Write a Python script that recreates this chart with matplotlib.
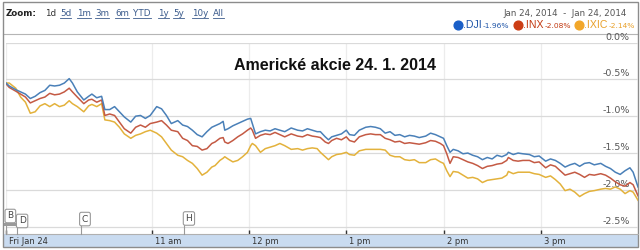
import matplotlib
matplotlib.use('Agg')
import matplotlib.pyplot as plt
from matplotlib.patches import Rectangle
from matplotlib.lines import Line2D
import matplotlib.transforms as mtransforms

# ---------------- data (minutes after 9:30 open, % change) ----------------
minutes = [0, 2, 6, 9, 12, 15, 18, 21, 24, 27,
           30, 33, 36, 39, 41, 44, 48, 51, 53, 56,
           59, 61, 64, 67, 70, 73, 77, 80, 83, 86,
           89, 93, 96, 99, 102, 106, 109, 112, 115, 118,
           121, 124, 127, 129, 132, 134, 135, 137, 140, 143,
           146, 149, 151, 152, 154, 157, 160, 163, 166, 169,
           172, 176, 180, 183, 186, 189, 192, 194, 197, 199,
           201, 204, 207, 210, 212, 215, 218, 222, 225, 228,
           231, 234, 237, 240, 243, 246, 249, 252, 255, 259,
           262, 265, 268, 270, 272, 274, 276, 279, 282, 285,
           288, 291, 294, 297, 300, 303, 306, 309, 310, 313,
           316, 319, 323, 326, 329, 333, 336, 339, 342, 345,
           348, 351, 354, 357, 360, 363, 367, 370, 373, 376,
           379, 382, 385, 387, 390]

dji = [-0.55, -0.59, -0.64, -0.67, -0.70, -0.76, -0.73, -0.68, -0.65, -0.58,
       -0.59, -0.58, -0.55, -0.49, -0.55, -0.67, -0.78, -0.73, -0.70, -0.75,
       -0.73, -0.91, -0.91, -0.87, -0.94, -1.01, -1.08, -1.00, -0.99, -1.03,
       -0.99, -0.87, -0.90, -0.99, -1.10, -1.06, -1.12, -1.14, -1.19, -1.25,
       -1.28, -1.21, -1.15, -1.13, -1.10, -1.07, -1.19, -1.17, -1.13, -1.10,
       -1.07, -1.04, -1.03, -1.10, -1.24, -1.21, -1.19, -1.20, -1.17, -1.19,
       -1.21, -1.16, -1.19, -1.20, -1.17, -1.19, -1.21, -1.21, -1.28, -1.32,
       -1.28, -1.26, -1.24, -1.19, -1.25, -1.26, -1.19, -1.15, -1.14, -1.15,
       -1.17, -1.23, -1.21, -1.26, -1.25, -1.28, -1.26, -1.27, -1.29, -1.27,
       -1.23, -1.25, -1.28, -1.30, -1.40, -1.49, -1.45, -1.47, -1.51, -1.50,
       -1.53, -1.55, -1.59, -1.56, -1.58, -1.53, -1.55, -1.52, -1.49, -1.52,
       -1.50, -1.51, -1.52, -1.55, -1.54, -1.61, -1.58, -1.60, -1.64, -1.69,
       -1.66, -1.64, -1.68, -1.64, -1.63, -1.66, -1.64, -1.68, -1.71, -1.76,
       -1.79, -1.74, -1.70, -1.76, -1.96]

inx = [-0.56, -0.61, -0.66, -0.70, -0.74, -0.82, -0.79, -0.76, -0.74, -0.69,
       -0.71, -0.70, -0.67, -0.62, -0.67, -0.74, -0.83, -0.78, -0.77, -0.81,
       -0.78, -0.99, -0.97, -0.99, -1.08, -1.17, -1.23, -1.15, -1.12, -1.15,
       -1.10, -1.08, -1.06, -1.12, -1.19, -1.21, -1.30, -1.33, -1.40, -1.41,
       -1.46, -1.44, -1.37, -1.35, -1.30, -1.29, -1.35, -1.37, -1.33, -1.28,
       -1.24, -1.19, -1.16, -1.19, -1.30, -1.26, -1.24, -1.25, -1.22, -1.25,
       -1.28, -1.24, -1.27, -1.28, -1.25, -1.27, -1.28, -1.29, -1.35, -1.37,
       -1.33, -1.30, -1.32, -1.28, -1.33, -1.35, -1.28, -1.25, -1.24, -1.25,
       -1.25, -1.30, -1.32, -1.35, -1.34, -1.37, -1.36, -1.37, -1.38, -1.36,
       -1.33, -1.34, -1.37, -1.40, -1.51, -1.64, -1.55, -1.56, -1.59, -1.62,
       -1.64, -1.67, -1.71, -1.68, -1.67, -1.65, -1.64, -1.60, -1.56, -1.60,
       -1.61, -1.60, -1.60, -1.63, -1.62, -1.70, -1.66, -1.68, -1.74, -1.80,
       -1.78, -1.76, -1.79, -1.83, -1.79, -1.80, -1.78, -1.80, -1.84, -1.89,
       -1.93, -1.95, -1.90, -1.93, -2.08]

ixic = [-0.55, -0.55, -0.62, -0.74, -0.81, -0.96, -0.94, -0.86, -0.83, -0.87,
        -0.83, -0.87, -0.85, -0.79, -0.83, -0.87, -0.94, -0.86, -0.84, -0.87,
        -0.83, -1.05, -1.06, -1.08, -1.15, -1.24, -1.30, -1.26, -1.24, -1.21,
        -1.19, -1.23, -1.28, -1.37, -1.46, -1.53, -1.55, -1.60, -1.64, -1.71,
        -1.80, -1.76, -1.69, -1.67, -1.60, -1.57, -1.55, -1.58, -1.62, -1.60,
        -1.55, -1.49, -1.40, -1.37, -1.40, -1.49, -1.44, -1.42, -1.40, -1.37,
        -1.40, -1.45, -1.44, -1.46, -1.44, -1.43, -1.44, -1.49, -1.55, -1.59,
        -1.55, -1.52, -1.51, -1.49, -1.52, -1.53, -1.47, -1.45, -1.45, -1.45,
        -1.45, -1.46, -1.53, -1.55, -1.55, -1.59, -1.60, -1.59, -1.63, -1.63,
        -1.59, -1.58, -1.62, -1.64, -1.74, -1.82, -1.75, -1.76, -1.80, -1.84,
        -1.83, -1.85, -1.90, -1.87, -1.86, -1.85, -1.84, -1.80, -1.75, -1.78,
        -1.76, -1.76, -1.76, -1.78, -1.79, -1.83, -1.81, -1.86, -1.92, -2.01,
        -1.99, -2.03, -2.09, -2.05, -2.02, -2.01, -1.99, -1.98, -1.99, -1.96,
        -1.99, -2.05, -2.01, -2.03, -2.14]

y_ticks = [0.0, -0.5, -1.0, -1.5, -2.0, -2.5]
y_tick_labels = ['0.0%', '-0.5%', '-1.0%', '-1.5%', '-2.0%', '-2.5%']
x_ticks = [0, 90, 150, 210, 270, 330]
x_tick_labels = ['Fri Jan 24', '11 am', '12 pm', '1 pm', '2 pm', '3 pm']
flag_letters = ['B', 'D', 'C', 'H']
flag_minutes = [0, 7, 46, 110]
legend_names = ['.DJI', '.INX', '.IXIC']
legend_changes = ['-1.96%', '-2.08%', '-2.14%']
zoom_links = ['1d', '5d', '1m', '3m', '6m', 'YTD', '1y', '5y', '10y', 'All']
title_text = 'Americké akcie 24. 1. 2014'
date_range = 'Jan 24, 2014  -  Jan 24, 2014'

# ---------------- styling ----------------
line_colors = ['#4a80b8', '#c45a44', '#e3b23c']
dot_colors = ['#1a5fc8', '#cc3d14', '#f2a72a']
text_colors = ['#1f55a8', '#c23a12', '#e8a02a']

W, H = 640, 250
fig = plt.figure(figsize=(6.4, 2.5), dpi=100)
fig.patch.set_facecolor('white')


def fx(x):
    return x / W


def fy(y):
    return 1 - y / H


# outer frame
fig.patches.append(Rectangle((fx(3), fy(247)), (638 - 3) / W, (247 - 2) / H,
                             transform=fig.transFigure, fill=False,
                             edgecolor='#8c8c8c', lw=1.0, zorder=-1))
# header separator
fig.add_artist(Line2D([fx(3), fx(638)], [fy(34), fy(34)], color='#b5b5b5', lw=0.8,
                      transform=fig.transFigure, zorder=-1))
# bottom band
fig.patches.append(Rectangle((fx(3), fy(247)), (638 - 3) / W, (247 - 234) / H,
                             transform=fig.transFigure, facecolor='#c9dbf0',
                             edgecolor='none', zorder=-2))

# main axes
ax = fig.add_axes([fx(6), fy(234), (638 - 6) / W, (234 - 42.5) / H])
ax.patch.set_alpha(0)
ax.set_xlim(0, 390)
ax.set_ylim(-(234 - 42.5) / 73.7, 0)
for s in ['top', 'left', 'right']:
    ax.spines[s].set_visible(False)
ax.spines['bottom'].set_color('#b0b0b0')
ax.spines['bottom'].set_linewidth(0.8)

ax.grid(axis='y', color='#dadada', lw=0.9)
ax.grid(axis='x', color='#ececec', lw=0.9)
ax.set_axisbelow(True)

for vals, c in zip([ixic, inx, dji], [line_colors[2], line_colors[1], line_colors[0]]):
    ax.plot(minutes, vals, color=c, lw=1.1, solid_joinstyle='round', zorder=3)

# y labels inside at the right, above gridlines
ax.yaxis.tick_right()
ax.set_yticks(y_ticks, y_tick_labels)
ax.tick_params(axis='y', length=0, pad=-6, labelsize=6.8, labelcolor='#555555')
yoff = mtransforms.ScaledTranslation(0, 1 / 100, fig.dpi_scale_trans)
for lab in ax.get_yticklabels():
    lab.set_ha('right')
    lab.set_va('bottom')
    lab.set_transform(lab.get_transform() + yoff)
    lab.set_zorder(5)

# x labels in band
ax.set_xticks(x_ticks, x_tick_labels)
ax.tick_params(axis='x', direction='in', length=3, width=1.0, color='#333333',
               pad=2.2, labelsize=6, labelcolor='#333333')
xoff = mtransforms.ScaledTranslation(3 / 100, 0, fig.dpi_scale_trans)
for lab in ax.get_xticklabels():
    lab.set_ha('left')
    lab.set_transform(lab.get_transform() + xoff)

# flags
btrans = mtransforms.blended_transform_factory(ax.transData, ax.transAxes)
flag_y = [0.094, 0.068, 0.078, 0.081]
for letter, t, fyv in zip(flag_letters, flag_minutes, flag_y):
    ax.plot([t, t], [0, fyv], transform=btrans, color='#999999', lw=0.8,
            clip_on=False, zorder=4)
    ax.text(t + 0.8, fyv, letter, transform=btrans, ha='left', va='center',
            fontsize=6.5, color='#444444', clip_on=False, zorder=6,
            bbox=dict(boxstyle='round,pad=0.25,rounding_size=0.2', fc='white',
                      ec='#9a9a9a', lw=0.8))
fig.patches.append(Rectangle((fx(4), fy(226)), 13 / W, 3.5 / H,
                             transform=fig.transFigure, facecolor='#9a9a9a',
                             edgecolor='none', zorder=5))

# title
fig.text(fx(335), fy(66), title_text, ha='center', va='center', fontsize=11.5,
         fontweight='bold', family='Liberation Sans', color='#111111')

# header: zoom links
fig.text(fx(6), fy(14), 'Zoom:', ha='left', va='center', fontsize=6.3,
         fontweight='bold', color='#222222')
zoom_x = [45, 60, 77, 95, 115, 133, 158, 173, 192, 213]
link_texts = []
for i, (lbl, x) in enumerate(zip(zoom_links, zoom_x)):
    col = '#333333' if i == 0 else '#3b5b8c'
    t = fig.text(fx(x), fy(14), lbl, ha='left', va='center', fontsize=6.3, color=col)
    if i > 0:
        link_texts.append(t)

# header: date range
fig.text(fx(627), fy(14), date_range, ha='right', va='center', fontsize=6.3,
         color='#555555')

# legend texts (positioned after measuring)
name_texts, chg_texts = [], []
for i in range(3):
    name_texts.append(fig.text(0, fy(25), legend_names[i], ha='left', va='center',
                               fontsize=7.6, family='Liberation Sans',
                               color=text_colors[i]))
    chg_texts.append(fig.text(0, fy(25.5), legend_changes[i], ha='left', va='center',
                              fontsize=5.4, color=text_colors[i]))

fig.canvas.draw()
renderer = fig.canvas.get_renderer()


def wpx(t):
    return t.get_window_extent(renderer).width


dot_w, gap_dot, gap_chg, gap_item = 7.0, 1.5, 1.0, 5.0
total = 0
for i in range(3):
    total += dot_w + gap_dot + wpx(name_texts[i]) + gap_chg + wpx(chg_texts[i])
    if i < 2:
        total += gap_item
xcur = 635 - total
for i in range(3):
    fig.add_artist(Line2D([fx(xcur + dot_w / 2)], [fy(25)], marker='o',
                          markersize=6.3, color=dot_colors[i],
                          transform=fig.transFigure))
    xcur += dot_w + gap_dot
    name_texts[i].set_x(fx(xcur))
    xcur += wpx(name_texts[i]) + gap_chg
    chg_texts[i].set_x(fx(xcur))
    xcur += wpx(chg_texts[i]) + gap_item

# underline links
for t in link_texts:
    bb = t.get_window_extent(renderer).transformed(fig.transFigure.inverted())
    fig.add_artist(Line2D([bb.x0, bb.x1], [bb.y0 + 0.002, bb.y0 + 0.002],
                          color='#3b5b8c', lw=0.6, transform=fig.transFigure))

fig.savefig('out.png', dpi=100, facecolor='white')
